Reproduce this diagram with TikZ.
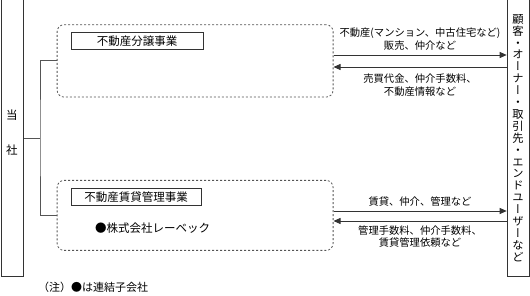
\documentclass[tikz,border=0pt]{standalone}
\usepackage{fontspec}
\setmainfont{Noto Sans CJK JP}
\newfontfamily\vfont[RawFeature=+vert]{Noto Sans CJK JP}
\usetikzlibrary{arrows.meta}
\definecolor{linec}{HTML}{333333}
\definecolor{connc}{HTML}{555555}
\definecolor{dashc}{HTML}{555555}
\tikzset{
  frame/.style={draw=linec, line width=0.9pt, inner sep=0pt},
  dbox/.style={draw=dashc, line width=0.8pt, dash pattern=on 2pt off 2pt, rounded corners=7pt, inner sep=0pt},
  sbox/.style={draw=linec, line width=0.8pt, inner sep=0pt, font=\fontsize{11.5}{13}\selectfont},
  lbl/.style={align=center, inner sep=0pt, font=\fontsize{10.3}{12.5}\selectfont},
  conn/.style={draw=connc, line width=0.8pt},
  arr/.style={draw=linec, line width=0.8pt, -{Triangle[length=7pt,width=6pt]}},
}
\begin{document}
\begin{tikzpicture}[x=1pt,y=-1pt]
\useasboundingbox (0,0) rectangle (530,296);
% side boxes
\node[frame, anchor=north west, minimum width=22.3pt, minimum height=277pt] (tosha) at (0.7,-1) {};
\node[frame, anchor=north west, minimum width=22.6pt, minimum height=277pt] (kokyaku) at (506.7,-1) {};
\node[inner sep=0pt, font=\fontsize{11.5}{13}\selectfont] (t1) at (11.8,115) {当};
\node[inner sep=0pt, font=\fontsize{11.5}{13}\selectfont] (t2) at (11.8,150) {社};
\node[inner sep=0pt, align=center, font=\vfont\fontsize{11.3}{11.9}\selectfont] (ktext) at (518,138)
  {顧\\客\\・\\オ\\ー\\ナ\\ー\\・\\取\\引\\先\\・\\エ\\ン\\ド\\ユ\\ー\\ザ\\ー\\な\\ど};
% segment boxes
\node[dbox, anchor=north west, minimum width=276pt, minimum height=72.4pt] (seg1) at (56.7,24.3) {};
\node[dbox, anchor=north west, minimum width=276pt, minimum height=70pt] (seg2) at (56.7,180) {};
\node[sbox, anchor=north west, minimum width=132pt, minimum height=17pt] (box1) at (70.7,32.3) {不動産分譲事業};
\node[sbox, anchor=north west, minimum width=130pt, minimum height=17pt] (box2) at (70.7,188.5) {不動産賃貸管理事業};
\node[inner sep=0pt, font=\fontsize{11.5}{13}\selectfont] (rebek) at (152.5,228) {●株式会社レーベック};
% tree connector
\coordinate (j) at (40,138);
\draw[conn] (seg1.west) -| (j) |- (seg2.west);
\draw[conn] (tosha.east |- j) -- (j);
% arrows
\coordinate (a1) at (0,55);
\coordinate (a2) at (0,67);
\coordinate (a3) at (0,211);
\coordinate (a4) at (0,221);
\draw[arr] (seg1.east |- a1) -- (kokyaku.west |- a1);
\draw[arr] (kokyaku.west |- a2) -- (seg1.east |- a2);
\draw[arr] (seg2.east |- a3) -- (kokyaku.west |- a3);
\draw[arr] (kokyaku.west |- a4) -- (seg2.east |- a4);
% labels
\node[lbl] (l1) at (420,39.3) {不動産(マンション、中古住宅など)\\販売、仲介など};
\node[lbl] (l2) at (420,85.3) {売買代金、仲介手数料、\\不動産情報など};
\node[lbl] (l3) at (420,201.7) {賃貸、仲介、管理など};
\node[lbl] (l4) at (420,236.7) {管理手数料、仲介手数料、\\賃貸管理依頼など};
% note
\node[inner sep=0pt, anchor=west, font=\fontsize{11}{13}\selectfont] (note) at (38,287) {（注）●は連結子会社};
\end{tikzpicture}
\end{document}
